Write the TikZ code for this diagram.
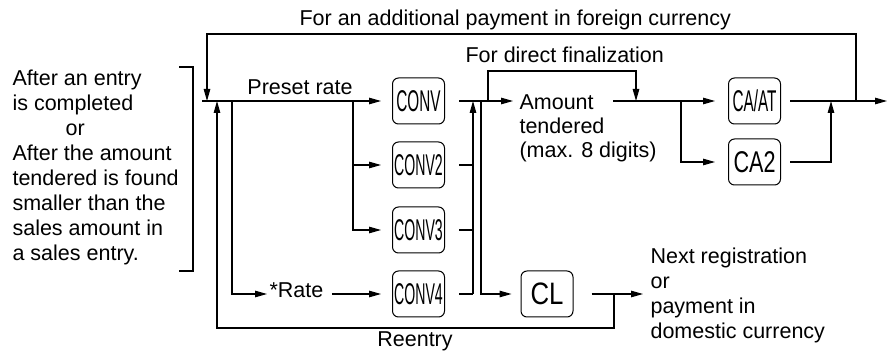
\documentclass[tikz,border=0pt]{standalone}
\usepackage{fontspec}
\usepackage{graphicx}
\setmainfont{Liberation Sans}
\usetikzlibrary{arrows.meta}
\begin{document}
\begin{tikzpicture}[x=1pt,y=-1pt,
  line width=1.1pt,
  arr/.style={-{Triangle[length=12pt,width=6.5pt]}},
  key/.style={draw,rounded corners=6pt,minimum width=52pt,minimum height=46pt,inner sep=0pt,line width=1pt,font=\fontsize{30}{30}\selectfont},
  lbl/.style={inner sep=0pt,font=\fontsize{21.5}{25}\selectfont},
]
\useasboundingbox (0,0) rectangle (888,352);

% texts (multi-line nodes are anchored at the baseline of their last line)
\node[lbl,anchor=base west,align=left] (cond) at (12,261) {After an entry\\is completed\\\hspace*{53pt}or\\After the amount\\tendered is found\\smaller than the\\sales amount in\\a sales entry.};
\draw (179,67) -- (193,67) -- (193,271) -- (179,271);

\node[lbl,anchor=base west] (foreign) at (299,26) {For an additional payment in foreign currency};
\node[lbl,anchor=base] (preset) at (300,95) {Preset rate};
\node[lbl,anchor=base west] (rate) at (269,298) {*Rate};
\node[lbl,anchor=base] (reentry) at (415,346) {Reentry};
\node[lbl,anchor=base west] (direct) at (465,63) {For direct finalization};
\node[lbl,anchor=base west,align=left,font=\fontsize{21.5}{24}\selectfont] (amount) at (519,158) {Amount\\tendered\\(max. 8 digits)};
\node[lbl,anchor=base west,align=left] (next) at (650,338) {Next registration\\or\\payment in\\domestic currency};

% keys
\node[key] (conv) at (418.5,101) {\scalebox{0.51}[1]{CONV}};
\node[key] (conv2) at (418.5,165) {\scalebox{0.47}[1]{CONV2}};
\node[key] (conv3) at (418.5,230) {\scalebox{0.47}[1]{CONV3}};
\node[key] (conv4) at (418.5,294) {\scalebox{0.47}[1]{CONV4}};
\node[key] (caat) at (754.5,101) {\scalebox{0.51}[1]{CA/AT}};
\node[key] (ca2) at (754.5,162) {\scalebox{0.72}[1]{CA2}};
\node[key,font=\fontsize{31}{31}\selectfont] (cl) at (547,294) {\scalebox{0.83}[1]{CL}};

% junctions
\coordinate (in) at (202,101);
\coordinate (loopIn) at (207,101);
\coordinate (reIn) at (217,101);
\coordinate (b2) at (232,101);
\coordinate (b1) at (353,101);
\coordinate (col) at (473,101);
\coordinate (b3) at (481,101);
\coordinate (b4) at (488,101);
\coordinate (dirIn) at (636,101);
\coordinate (b5) at (681,101);
\coordinate (ca2In) at (831,101);
\coordinate (loopR) at (856,101);
\coordinate (outR) at (887,101);
\coordinate (re) at (614,294);

% main path
\draw[arr,shorten >=11pt] (in) -- (conv.west);
\draw[arr,shorten >=11pt] (b1) |- (conv3.west);
\draw[arr,shorten >=11pt] (b1 |- conv2) -- (conv2.west);
\draw[arr] (b2) |- ([xshift=-2pt]rate.west |- conv4);
\draw[arr,shorten >=11pt] ([xshift=8pt]rate.east |- conv4) -- (conv4.west);

% outputs of conv keys
\draw ([xshift=14pt]conv2.east) -- (col |- conv2);
\draw ([xshift=14pt]conv3.east) -- (col |- conv3);
\draw ([xshift=14pt]conv4.east) -- (col |- conv4);
\draw[arr] (col |- conv4) -- (col);
\draw[arr] ([xshift=14pt]conv.east) -- ([xshift=-6pt]amount.west |- conv);
\draw[arr,shorten >=9pt] (b3) |- (cl.west);
\draw[arr] (b4) -- ++(0,-30) -| (dirIn);

% tendering
\draw[arr,shorten >=13pt] (613,101) -- (caat.west);
\draw[arr,shorten >=13pt] (b5) |- (ca2.west);
\draw[arr] ([xshift=9pt]caat.east) -- (outR);
\draw[arr] ([xshift=9pt]ca2.east) -| (ca2In);
\draw[arr] (loopR) -- ++(0,-67) -| (loopIn);

% clear / reentry
\draw[arr] ([xshift=18pt]cl.east) -- ([xshift=-7pt]next.west |- cl);
\draw[arr] (re) -- ++(0,34) -| (reIn);
\end{tikzpicture}
\end{document}
